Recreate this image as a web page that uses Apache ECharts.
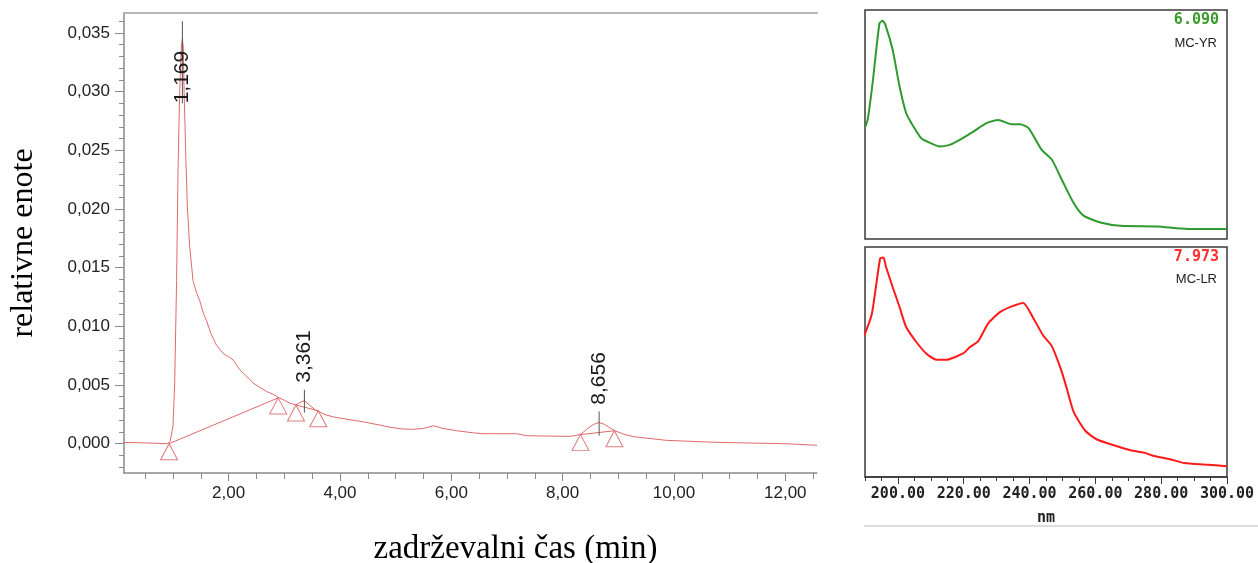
<!DOCTYPE html>
<html>
<head>
<meta charset="utf-8">
<script src="https://cdn.jsdelivr.net/npm/echarts@6.0.0/dist/echarts.min.js"></script>
<style>
html, body { margin: 0; padding: 0; background: #fff; }
#chart { width: 1258px; height: 563px; }
</style>
</head>
<body>
<div id="chart"></div>
<script>
// chromatogram (retention time in min, relative units)
var retTime = [0.12, 0.40, 0.70, 0.90, 0.95, 1.00, 1.03, 1.065, 1.09, 1.12, 1.15, 1.169, 1.185, 1.20, 1.23, 1.26,
    1.30, 1.36, 1.42, 1.48, 1.54, 1.60, 1.68, 1.78, 1.90, 2.00, 2.08, 2.20, 2.32, 2.44, 2.56, 2.68, 2.80, 2.89,
    3.00, 3.10, 3.21, 3.30, 3.361, 3.45, 3.55, 3.61, 3.75, 3.88, 4.10, 4.30, 4.48, 4.70, 4.90, 5.08, 5.30, 5.50,
    5.68, 5.85, 6.10, 6.40, 6.57, 6.90, 7.17, 7.35, 7.70, 8.13, 8.25, 8.34, 8.45, 8.56, 8.656, 8.75, 8.85, 8.94,
    9.10, 9.27, 9.55, 9.87, 10.30, 10.77, 11.30, 11.97, 12.20, 12.57];
var signal = [0.00010, 0.00008, 0.00003, 0.00000, 0.00020, 0.00150, 0.00500, 0.01390, 0.02300, 0.03000, 0.03380,
    0.03450, 0.03380, 0.03000, 0.02450, 0.02000, 0.01680, 0.01390, 0.01290, 0.01220, 0.01120, 0.01050, 0.00940,
    0.00840, 0.00770, 0.00740, 0.00714, 0.00630, 0.00575, 0.00516, 0.00480, 0.00445, 0.00420, 0.00395, 0.00370,
    0.00345, 0.00330, 0.00355, 0.00366, 0.00330, 0.00290, 0.00275, 0.00245, 0.00228, 0.00210, 0.00195, 0.00180,
    0.00160, 0.00140, 0.00127, 0.00122, 0.00130, 0.00153, 0.00130, 0.00110, 0.00092, 0.00085, 0.00085, 0.00085,
    0.00068, 0.00065, 0.00062, 0.00070, 0.00085, 0.00130, 0.00165, 0.00180, 0.00165, 0.00135, 0.00110, 0.00080,
    0.00060, 0.00045, 0.00028, 0.00020, 0.00011, 0.00006, 0.00000, -0.00005, -0.00014];
var xTicks = [2, 4, 6, 8, 10, 12];
var yTicks = [0, 0.005, 0.010, 0.015, 0.020, 0.025, 0.030, 0.035];

// integrated peaks
var peakTimes = [1.169, 3.361, 8.656];
var peakLabels = ['1,169', '3,361', '8,656'];
var peakLineTop = [0.0360, 0.00459, 0.00275];
var peakLineBottom = [0.0290, 0.00264, 0.00068];
var peakLabelBase = [0.0290, 0.00519, 0.00332];

// baselines and their start/end markers
var baseFromT = [0.93, 3.21, 8.32];
var baseFromV = [0.0000, 0.0033, 0.00077];
var baseToT = [2.89, 3.61, 8.93];
var baseToV = [0.0039, 0.0028, 0.0011];
var markerT = [0.93, 2.89, 3.21, 3.61, 8.32, 8.93];
var markerV = [0.0000, 0.0039, 0.0033, 0.0028, 0.00077, 0.0011];

// UV spectra
var nmYR = [190.1, 190.8, 192.3, 194.4, 195.4, 196.2, 198.4, 200.5, 202.5, 204.1, 207.1, 209.6, 212.7, 215.7,
    218.8, 222.9, 226.9, 230.5, 234.6, 237.1, 239.7, 243.7, 246.8, 249.8, 253.4, 256.4, 261.5, 267.6, 278.9,
    288.0, 300.0];
var absYR = [0.491, 0.520, 0.680, 0.942, 0.953, 0.935, 0.826, 0.666, 0.550, 0.506, 0.440, 0.421, 0.404, 0.411,
    0.433, 0.469, 0.506, 0.520, 0.501, 0.501, 0.484, 0.389, 0.346, 0.259, 0.157, 0.102, 0.072, 0.058, 0.055,
    0.044, 0.044];
var nmLR = [189.8, 192.1, 194.6, 195.6, 196.4, 198.4, 200.5, 202.5, 205.6, 208.6, 211.7, 214.7, 219.8, 221.9,
    224.4, 227.4, 231.0, 234.6, 238.1, 241.2, 244.1, 246.8, 249.3, 250.9, 253.4, 257.0, 260.5, 265.6, 270.7,
    274.8, 277.8, 283.0, 287.0, 293.1, 300.0];
var absLR = [0.616, 0.710, 0.950, 0.954, 0.913, 0.826, 0.739, 0.652, 0.587, 0.537, 0.510, 0.510, 0.537, 0.565,
    0.591, 0.667, 0.717, 0.742, 0.757, 0.689, 0.616, 0.568, 0.478, 0.406, 0.283, 0.200, 0.163, 0.138, 0.116,
    0.106, 0.091, 0.076, 0.061, 0.054, 0.047];
var nmTicks = [200, 220, 240, 260, 280, 300];

var chart = echarts.init(document.getElementById('chart'));

var pairs = function (xs, ys) {
    return xs.map(function (x, i) { return [x, ys[i]]; });
};

var xMinor = [], yMinor = [];
for (var i = 1; i <= 25; i++) xMinor.push(i * 0.5);
for (var j = -2; j <= 36; j++) yMinor.push(j / 1000);

var axisGray = '#8a8a8a',
    curveRed = '#e06a6a',
    labelFont = 'Liberation Sans';

var series = [{
    type: 'line',
    xAxisIndex: 0, yAxisIndex: 0,
    data: pairs(retTime, signal),
    showSymbol: false,
    lineStyle: {color: curveRed, width: 1},
    z: 3
}];

baseFromT.forEach(function (t, k) {
    series.push({
        type: 'line',
        xAxisIndex: 0, yAxisIndex: 0,
        data: [[t, baseFromV[k]], [baseToT[k], baseToV[k]]],
        showSymbol: false,
        lineStyle: {color: curveRed, width: 1},
        z: 3
    });
});

series.push({
    type: 'scatter',
    xAxisIndex: 0, yAxisIndex: 0,
    data: pairs(markerT, markerV),
    symbol: 'triangle',
    symbolSize: [17, 16],
    symbolOffset: [0, '50%'],
    itemStyle: {color: 'rgba(255,255,255,0)', borderColor: '#d65a5a', borderWidth: 1},
    z: 4
});

series.push({
    type: 'custom',
    xAxisIndex: 0, yAxisIndex: 0,
    data: peakTimes.map(function (t, k) {
        return [t, peakLineTop[k], peakLineBottom[k], peakLabelBase[k]];
    }),
    renderItem: function (params, api) {
        var top = api.coord([api.value(0), api.value(1)]),
            bot = api.coord([api.value(0), api.value(2)]),
            lab = api.coord([api.value(0), api.value(3)]);
        return {
            type: 'group',
            children: [{
                type: 'line',
                shape: {x1: top[0], y1: top[1], x2: bot[0], y2: bot[1]},
                style: {stroke: '#555', lineWidth: 1}
            }, {
                type: 'text',
                x: lab[0], y: lab[1],
                rotation: Math.PI / 2,
                style: {
                    text: peakLabels[params.dataIndex],
                    font: '21px "' + labelFont + '"',
                    fill: '#1a1a1a',
                    align: 'left',
                    verticalAlign: 'middle'
                }
            }]
        };
    },
    z: 5
});

series.push({
    type: 'line',
    xAxisIndex: 3, yAxisIndex: 2,
    data: pairs(nmYR, absYR),
    showSymbol: false,
    smooth: 0.2,
    lineStyle: {color: '#2f9a2f', width: 2}
});
series.push({
    type: 'line',
    xAxisIndex: 4, yAxisIndex: 3,
    data: pairs(nmLR, absLR),
    showSymbol: false,
    smooth: 0.2,
    lineStyle: {color: '#ff1a1a', width: 2}
});

chart.setOption({
    animation: false,
    backgroundColor: '#fff',
    grid: [
        {left: 124, top: 13, width: 693, height: 460, outerBoundsMode: 'none'},
        {left: 865, top: 10, width: 362, height: 229, show: true, borderColor: '#3a3a3a', borderWidth: 1.5, outerBoundsMode: 'none'},
        {left: 865, top: 247, width: 362, height: 230, show: true, borderColor: '#3a3a3a', borderWidth: 1.5, outerBoundsMode: 'none'}
    ],
    xAxis: [{
        gridIndex: 0, type: 'value', position: 'bottom',
        min: 0.12, max: 12.57,
        name: 'zadrževalni čas (min)',
        nameLocation: 'middle', nameGap: 60,
        nameTextStyle: {fontFamily: 'Liberation Serif', fontSize: 33, color: '#000', padding: [0, 0, 0, 90]},
        axisLine: {onZero: false, lineStyle: {color: axisGray, width: 1.5}},
        axisTick: {customValues: xTicks, length: 8, lineStyle: {color: axisGray}},
        axisLabel: {
            customValues: xTicks, margin: 12,
            fontFamily: labelFont, fontSize: 17, color: '#222',
            formatter: function (v) { return v.toFixed(2).replace('.', ','); }
        },
        splitLine: {show: false}
    }, {
        gridIndex: 0, type: 'value', position: 'bottom',
        min: 0.12, max: 12.57,
        axisLine: {show: false, onZero: false},
        axisTick: {customValues: xMinor, length: 6, lineStyle: {color: axisGray}},
        axisLabel: {show: false},
        splitLine: {show: false}
    }, {
        gridIndex: 0, type: 'value', position: 'top',
        min: 0.12, max: 12.57,
        axisLine: {onZero: false, lineStyle: {color: '#b5b5b5', width: 2}},
        axisTick: {show: false},
        axisLabel: {show: false},
        splitLine: {show: false}
    }, {
        gridIndex: 1, type: 'value', min: 190, max: 300, show: false
    }, {
        gridIndex: 2, type: 'value', position: 'bottom',
        min: 190, max: 300,
        name: 'nm', nameLocation: 'middle', nameGap: 34,
        nameTextStyle: {fontFamily: 'DejaVu Sans Mono', fontWeight: 'bold', fontSize: 15, color: '#222'},
        axisLine: {onZero: false, lineStyle: {color: '#3a3a3a', width: 1.5}},
        axisTick: {customValues: nmTicks, length: 7, lineStyle: {color: '#3a3a3a'}},
        axisLabel: {
            customValues: nmTicks, margin: 10,
            fontFamily: 'DejaVu Sans Mono', fontWeight: 'bold', fontSize: 15, color: '#222',
            formatter: function (v) { return v.toFixed(2); }
        },
        splitLine: {show: false}
    }, {
        gridIndex: 2, type: 'value', position: 'bottom',
        min: 190, max: 300, interval: 5,
        axisLine: {show: false, onZero: false},
        axisTick: {length: 4, lineStyle: {color: '#3a3a3a'}},
        axisLabel: {show: false},
        splitLine: {show: false}
    }],
    yAxis: [{
        gridIndex: 0, type: 'value', position: 'left',
        min: -0.0025, max: 0.0367,
        name: 'relativne enote',
        nameLocation: 'middle', nameGap: 84,
        nameTextStyle: {fontFamily: 'Liberation Serif', fontSize: 32, color: '#000'},
        axisLine: {show: true, onZero: false, lineStyle: {color: axisGray, width: 1.5}},
        axisTick: {show: true, customValues: yTicks, length: 9, lineStyle: {color: axisGray}},
        axisLabel: {
            customValues: yTicks, margin: 14,
            fontFamily: labelFont, fontSize: 17, color: '#222',
            formatter: function (v) { return v.toFixed(3).replace('.', ','); }
        },
        splitLine: {show: false}
    }, {
        gridIndex: 0, type: 'value', position: 'left',
        min: -0.0025, max: 0.0367,
        axisLine: {show: false, onZero: false},
        axisTick: {show: true, customValues: yMinor, length: 5, lineStyle: {color: axisGray}},
        axisLabel: {show: false},
        splitLine: {show: false}
    }, {
        gridIndex: 1, type: 'value', min: 0, max: 1, show: false
    }, {
        gridIndex: 2, type: 'value', min: 0, max: 1, show: false
    }],
    graphic: [
        {type: 'text', right: 39, top: 13, style: {text: '6.090', font: 'bold 15px "DejaVu Sans Mono"', fill: '#3a9a2a'}},
        {type: 'text', right: 41, top: 37, style: {text: 'MC-YR', font: '13px "Liberation Sans"', fill: '#222'}},
        {type: 'text', right: 39, top: 250, style: {text: '7.973', font: 'bold 15px "DejaVu Sans Mono"', fill: '#ff3030'}},
        {type: 'text', right: 41, top: 273, style: {text: 'MC-LR', font: '13px "Liberation Sans"', fill: '#222'}},
        {type: 'line', shape: {x1: 864, y1: 526, x2: 1258, y2: 526}, style: {stroke: '#bbb', lineWidth: 1}}
    ],
    series: series
});
</script>
</body>
</html>
